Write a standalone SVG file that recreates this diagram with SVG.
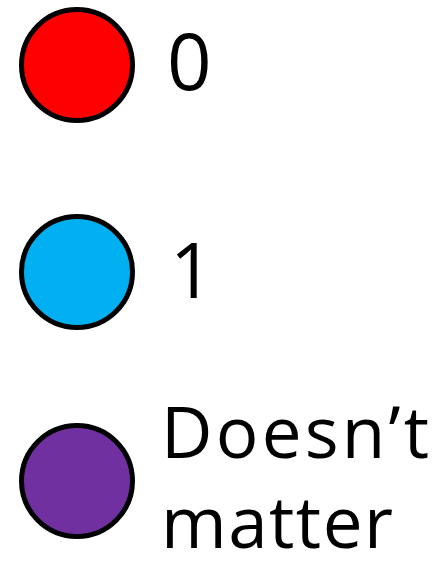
<svg xmlns="http://www.w3.org/2000/svg" width="442" height="563" viewBox="0 0 442 563">
<style>
.dot{stroke:#000;stroke-width:5}
.lbl{font-family:"Open Sans","Liberation Sans",sans-serif;fill:#000}
</style>
<rect width="442" height="563" fill="#fff"/>
<g id="zero">
<circle class="dot" cx="77" cy="65" r="55.5" fill="#ff0000"/>
<text class="lbl" x="167" y="90" font-size="78">0</text>
</g>
<g id="one">
<circle class="dot" cx="77" cy="272" r="55.5" fill="#00b0f0"/>
<text class="lbl" x="170" y="298" font-size="76">1</text>
</g>
<g id="dontcare">
<circle class="dot" cx="77" cy="481" r="55.5" fill="#7030a0"/>
<text class="lbl" x="161" y="458" font-size="71" textLength="268" lengthAdjust="spacing">Doesn’t</text>
<text class="lbl" x="161" y="548" font-size="71" textLength="232" lengthAdjust="spacing">matter</text>
</g>
<g id="connectors"/>
</svg>
